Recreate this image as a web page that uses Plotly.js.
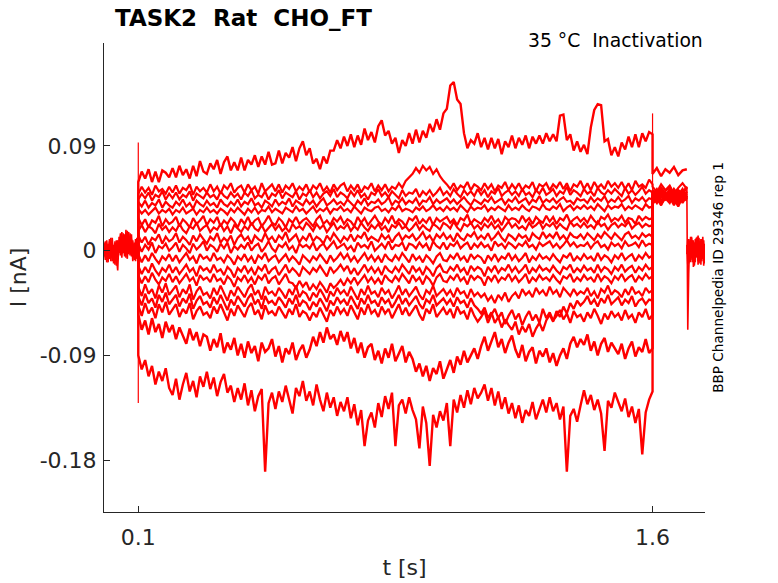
<!DOCTYPE html>
<html>
<head>
<meta charset="utf-8">
<script src="https://cdn.plot.ly/plotly-3.0.1.min.js"></script>
<style>html,body{margin:0;padding:0;background:#fff;}#chart{width:778px;height:583px;}</style>
</head>
<body>
<div id="chart"></div>
<script>
// ---- Data (currents in pA, converted to nA when plotted) ----
// Pre-stimulus baseline traces, t = 0 .. 0.1 s
const pre1 = [2,-8,9,-6,10,-9,7,-11,8,-5,-17,12,-4,16,-2,14,-6,17,-3,15,-5,9,-8,10,-7,0];
const pre2 = [-5,8,-10,6,-7,11,-9,5,-12,9,-6,4,15,-3,13,-5,18,-1,12,-4,14,-6,7,-9,8,0];
const pre3 = [7,-4,5,-10,8,-6,11,-8,6,-13,9,-2,10,-6,15,-3,11,-7,16,-2,10,-9,6,-5,11,0];

// Capacitive transients at step onset (t=0.1) and offset (t=1.6)
const transientOn = [93, -131];
const transientOff = [118, 40];

// Conditioning-step traces, t = 0.1 .. 1.6 s (10 ms samples)
const trTop = [59,68,62,70,59,68,59,69,67,63, 71,63,73,65,70,62,73,64,77,68, 66,75,70,78,66,76,81,69,76,69, 80,69,78,74,82,72,81,74,85,74,
  75,86,75,84,80,89,77,88,94,82, 88,75,79,70,81,75,86,86,95,88, 98,90,100,89,99,91,105,95,102,93, 107,112,99,103,92,97,84,95,90,101,
  92,104,93,103,97,109,102,113,104,118, 122,142,145,130,126,101,88,95,92,101, 89,97,87,97,88,96,83,94,89,99, 88,97,91,99,88,98,92,99,92,101,
  94,100,94,116,117,95,100,86,94,85, 91,83,106,121,126,125,94,96,82,89, 81,93,87,98,89,100,89,101,94,102, 100];
const trB1 = [49,55,50,54,48,56,51,53,49,55, 50,56,49,54,52,57,48,55,51,54, 50,57,51,55,49,56,53,58,50,54, 56,50,57,52,55,49,58,51,54,57,
  51,57,50,56,53,58,51,55,52,57, 50,56,53,58,51,55,50,57,52,56, 58,51,56,52,57,50,55,53,58,51, 56,52,57,51,55,53,58,54,60,63,
  66,71,67,73,69,72,66,70,64,60, 57,53,58,52,56,54,59,52,57,55, 52,58,53,57,51,56,54,59,52,57, 53,58,52,56,54,59,51,57,55,58,
  52,57,54,59,53,58,51,57,55,60, 53,58,52,59,54,57,53,60,55,58, 54,59,53,58,52,60,55,57,54,61, 57];
const trB2 = [44,49,45,50,43,48,46,51,44,49, 45,50,44,48,46,51,43,49,47,45, 50,46,48,44,51,47,45,50,46,49, 44,50,47,52,45,48,46,51,44,49,
  47,52,45,50,48,46,51,44,49,47, 52,46,50,45,49,51,47,53,46,50, 48,45,51,47,52,46,49,44,50,48, 53,47,50,46,51,48,45,52,47,50,
  49,53,46,51,48,52,47,50,54,48, 51,47,53,49,46,52,48,51,47,53, 48,52,46,51,49,54,47,50,52,48, 51,47,53,48,50,46,52,49,54,48,
  50,53,47,51,49,55,48,52,50,47, 53,49,51,47,54,50,48,52,49,53, 50,47,54,49,52,48,51,55,49,52, 50];
const trB3 = [42,38,43,37,41,39,44,37,42,39, 37,42,39,44,38,41,36,43,40,38, 43,39,41,37,44,40,38,42,39,44, 38,42,40,45,39,41,37,43,41,38,
  44,39,42,40,45,38,43,41,39,44, 40,43,38,42,45,39,41,44,40,42, 39,44,41,38,43,40,45,39,42,41, 44,40,42,46,39,43,41,45,40,43,
  41,45,39,43,42,46,40,44,41,43, 45,41,44,40,43,46,42,39,44,42, 40,44,42,46,41,43,45,40,44,42, 46,41,43,45,40,44,42,47,41,44,
  42,45,41,44,46,42,43,40,45,43, 44,41,46,42,45,43,47,41,44,42, 46,42,44,47,41,45,43,46,42,45, 44];
const trB4 = [36,32,35,31,34,37,32,35,33,36, 31,35,33,37,32,34,36,31,35,33, 37,33,35,32,36,34,31,36,33,37, 34,31,36,33,37,32,35,34,38,33,
  36,34,32,37,35,33,38,34,36,32, 35,38,33,36,34,37,32,36,35,38, 34,36,33,38,35,32,37,35,34,37, 38,34,36,33,37,35,39,34,36,35,
  33,37,35,38,34,36,39,35,37,34, 38,35,37,34,39,36,33,38,35,37, 36,39,34,37,35,38,36,34,39,35, 37,35,39,36,34,38,37,35,40,36,
  35,38,36,40,34,37,39,35,38,36, 39,36,38,35,40,37,34,39,36,38, 37,40,35,38,36,39,37,35,40,37, 38];
const trB5 = [28,22,27,20,26,24,30,21,27,23, 25,29,21,27,24,20,28,23,26,30, 22,27,24,29,21,26,23,28,25,20, 27,23,29,22,26,28,21,25,30,24,
  22,28,25,20,27,24,29,23,26,28, 24,21,27,30,23,26,22,28,25,29, 23,27,25,21,29,24,28,22,26,30, 25,22,28,24,30,23,27,25,21,28,
  26,30,23,27,24,29,22,28,25,27, 29,24,27,22,28,26,31,23,27,25, 23,28,25,30,24,27,22,29,26,28, 27,24,30,25,28,23,29,26,24,30,
  25,29,23,28,26,31,24,27,29,25, 28,24,30,26,23,29,27,31,25,28, 26,30,24,28,27,23,30,26,29,27, 28];
const trB6 = [17,22,16,21,19,15,23,18,21,16, 20,17,23,18,15,21,19,24,17,20, 22,16,20,18,23,17,21,15,22,19, 16,21,18,24,19,17,22,16,20,23,
  18,22,17,20,16,23,19,21,18,24, 21,17,23,19,22,16,20,24,18,21, 19,23,17,21,18,24,20,17,22,19, 23,18,21,16,22,20,24,19,21,17,
  20,24,18,22,19,17,23,21,18,24, 22,19,25,20,17,23,21,24,19,22, 18,23,20,24,19,22,17,21,25,20, 23,19,21,18,24,20,22,25,19,23,
  21,24,19,23,20,18,25,21,23,20, 24,20,22,19,25,21,23,18,22,24, 20,23,21,25,19,22,24,20,23,21, 22];
const trB7 = [13,7,12,5,11,9,14,6,12,8, 10,15,7,12,9,5,13,8,14,10, 6,12,9,15,7,11,8,13,5,11, 14,9,12,6,13,10,8,15,9,12,
  7,13,10,16,8,11,14,7,12,9, 15,8,12,10,6,13,9,15,11,7, 12,9,14,8,13,11,16,9,12,10, 8,14,10,13,7,12,15,9,13,11,
  14,9,12,16,10,13,8,14,11,15, 10,13,8,15,11,9,14,12,16,10, 13,10,15,9,12,16,11,8,14,12, 9,14,11,13,8,15,12,10,16,11,
  14,11,16,10,13,9,15,12,11,14, 10,15,12,9,14,11,16,13,10,15, 12,9,14,16,11,13,10,15,12,14, 12];
const trB8 = [6,-1,5,1,7,-2,4,2,6,0, 3,7,-1,5,2,-2,6,1,4,8, 0,5,3,-1,6,2,7,-2,4,1, 5,2,7,0,4,6,-1,3,8,2,
  -1,5,3,7,1,4,-2,6,3,5, 2,7,0,4,6,1,5,8,2,4, 6,1,4,-1,7,3,5,2,8,0, 3,6,2,8,1,5,4,7,0,6,
  5,2,7,3,6,0,8,4,2,7, 1,6,4,8,2,5,7,1,6,3, 7,3,5,0,8,4,6,2,7,5, 2,6,4,8,3,5,1,7,4,6,
  8,3,6,2,5,9,4,7,3,5, 4,7,2,6,8,3,5,1,7,4, 6,2,8,4,5,7,3,9,4,6, 5];
const trB9 = [-3,-10,-4,-9,-2,-7,-11,-5,-8,-3, -9,-4,-10,-6,-2,-8,-5,-11,-3,-7, -5,-9,-2,-8,-6,-10,-4,-7,-12,-5, -8,-3,-9,-5,-11,-4,-7,-2,-9,-6,
  -4,-10,-6,-3,-9,-5,-8,-12,-4,-7, -10,-5,-8,-3,-7,-11,-4,-9,-6,-2, -7,-3,-9,-5,-10,-6,-2,-8,-4,-9, -5,-10,-3,-7,-9,-4,-8,-2,-6,-10,
  -3,-8,-5,-10,-4,-7,-11,-5,-2,-8, -9,-4,-7,-2,-8,-5,-10,-3,-7,-4, -6,-11,-4,-8,-3,-9,-5,-7,-2,-8, -4,-9,-6,-2,-10,-5,-8,-3,-7,-5,
  -8,-3,-7,-10,-4,-6,-2,-9,-5,-8, -3,-7,-5,-9,-2,-8,-4,-6,-10,-4, -7,-2,-8,-5,-3,-9,-4,-7,-2,-6, -4];
const trB10 = [-13,-20,-14,-19,-11,-17,-21,-15,-18,-12, -19,-14,-20,-16,-12,-18,-15,-22,-13,-17, -15,-19,-12,-18,-16,-21,-14,-17,-23,-15, -18,-13,-19,-15,-21,-14,-17,-12,-20,-16,
  -14,-21,-16,-12,-19,-15,-18,-22,-14,-17, -20,-15,-18,-13,-17,-22,-14,-19,-16,-12, -17,-13,-20,-15,-21,-16,-12,-18,-14,-19, -15,-21,-13,-17,-19,-14,-18,-12,-16,-20,
  -13,-18,-15,-21,-14,-17,-22,-15,-12,-18, -19,-14,-17,-12,-18,-15,-21,-13,-17,-14, -16,-22,-14,-18,-13,-19,-15,-17,-12,-18, -14,-19,-16,-12,-20,-15,-18,-13,-17,-15,
  -18,-13,-17,-20,-14,-16,-12,-19,-15,-18, -13,-17,-15,-19,-12,-18,-14,-16,-20,-14, -17,-12,-18,-15,-13,-19,-14,-17,-12,-16, -14];
const trB11 = [-21,-28,-22,-27,-19,-25,-29,-23,-26,-20, -27,-22,-28,-24,-20,-26,-23,-30,-21,-25, -23,-27,-20,-26,-24,-29,-22,-25,-31,-23, -26,-21,-27,-23,-29,-22,-25,-20,-28,-24,
  -22,-29,-24,-20,-27,-28,-32,-26,-31,-27, -34,-29,-33,-27,-31,-36,-28,-32,-29,-25, -30,-24,-28,-23,-29,-25,-21,-27,-23,-28, -24,-29,-21,-25,-27,-22,-26,-20,-24,-28,
  -21,-26,-23,-29,-22,-25,-30,-23,-20,-26, -27,-22,-25,-20,-26,-23,-29,-21,-25,-22, -24,-30,-22,-26,-21,-27,-23,-25,-20,-26, -22,-27,-24,-20,-28,-23,-26,-21,-25,-23,
  -26,-21,-25,-28,-22,-24,-20,-27,-23,-26, -21,-25,-23,-27,-20,-26,-22,-24,-28,-22, -25,-20,-26,-23,-21,-27,-22,-25,-20,-24, -22];
const trB12 = [-31,-39,-29,-37,-33,-41,-30,-36,-28,-38, -34,-30,-40,-33,-37,-29,-42,-35,-31,-38, -36,-41,-32,-38,-30,-37,-43,-34,-39,-31, -35,-40,-33,-29,-38,-34,-42,-31,-37,-35,
  -39,-32,-36,-41,-33,-38,-30,-40,-35,-37, -43,-36,-40,-33,-38,-44,-35,-39,-32,-37, -34,-39,-31,-36,-42,-33,-38,-30,-37,-35, -40,-32,-37,-34,-41,-36,-30,-38,-33,-39,
  -35,-31,-38,-42,-34,-37,-30,-39,-36,-33, -38,-34,-40,-32,-37,-35,-41,-33,-39,-36, -40,-37,-43,-39,-45,-38,-42,-36,-44,-39, -36,-41,-33,-38,-35,-40,-32,-37,-34,-39,
  -31,-37,-34,-40,-32,-36,-39,-33,-38,-35, -37,-32,-39,-35,-41,-33,-36,-30,-38,-34, -36,-40,-33,-38,-31,-37,-35,-39,-32,-36, -34];
const trB13 = [-39,-47,-37,-45,-41,-49,-38,-44,-36,-46, -42,-38,-48,-41,-45,-37,-50,-43,-39,-46, -44,-49,-40,-46,-38,-45,-51,-42,-47,-39, -43,-48,-41,-37,-46,-42,-50,-39,-45,-43,
  -47,-40,-44,-49,-41,-46,-38,-48,-43,-45, -51,-44,-48,-41,-46,-52,-43,-47,-40,-45, -42,-47,-39,-44,-50,-41,-46,-38,-45,-43, -48,-40,-45,-42,-49,-44,-38,-46,-41,-47,
  -43,-39,-46,-50,-42,-45,-38,-47,-44,-41, -46,-42,-48,-40,-45,-43,-49,-41,-47,-50, -54,-49,-58,-53,-62,-57,-66,-59,-64,-68, -61,-72,-65,-70,-63,-74,-67,-62,-69,-60,
  -55,-61,-52,-57,-48,-54,-45,-50,-43,-47, -44,-39,-46,-42,-48,-41,-45,-38,-46,-43, -40,-47,-42,-45,-39,-48,-43,-41,-46,-42, -43];
const trB14 = [-47,-56,-45,-54,-49,-58,-46,-53,-44,-55, -51,-46,-57,-50,-54,-45,-59,-52,-48,-55, -53,-58,-48,-54,-46,-53,-60,-50,-56,-47, -52,-57,-49,-45,-55,-51,-59,-47,-54,-52,
  -56,-48,-53,-58,-50,-55,-46,-57,-52,-54, -60,-53,-57,-49,-55,-61,-51,-56,-48,-54, -50,-56,-47,-53,-59,-49,-55,-46,-54,-51, -57,-48,-54,-50,-58,-52,-46,-55,-49,-56,
  -51,-47,-55,-60,-50,-54,-46,-57,-53,-49, -55,-50,-58,-48,-54,-52,-59,-49,-56,-61, -57,-52,-62,-55,-50,-58,-53,-63,-56,-51, -59,-54,-64,-57,-52,-60,-55,-62,-50,-58,
  -53,-60,-56,-51,-59,-54,-62,-52,-57,-55, -61,-53,-58,-50,-56,-63,-54,-59,-52,-57, -54,-60,-51,-58,-55,-62,-53,-57,-50,-59, -55];
const trA = [-55,-68,-60,-72,-58,-70,-63,-75,-61,-70, -64,-76,-66,-73,-80,-67,-77,-70,-82,-72, -74,-86,-76,-83,-71,-88,-79,-85,-75,-90, -80,-92,-78,-88,-82,-95,-79,-87,-84,-76,
  -91,-82,-96,-84,-89,-79,-94,-86,-81,-92, -85,-74,-82,-70,-79,-66,-76,-72,-81,-69, -78,-70,-84,-75,-88,-79,-92,-83,-80,-94, -86,-97,-84,-92,-80,-95,-88,-82,-96,-87,
  -93,-104,-97,-108,-99,-112,-101,-106,-95,-110, -102,-94,-105,-91,-98,-86,-96,-90,-84,-93, -82,-74,-86,-78,-70,-83,-76,-88,-79,-73, -85,-92,-81,-95,-87,-83,-97,-86,-91,-84,
  -96,-88,-99,-90,-84,-93,-80,-74,-83,-76, -81,-72,-86,-78,-90,-80,-75,-87,-79,-84, -89,-80,-93,-84,-78,-91,-83,-87,-76,-88, -84];
const trBottom = [-90,-102,-94,-108,-99,-115,-104,-112,-101,-118, -124,-110,-128,-115,-105,-121,-112,-126,-108,-117, -104,-119,-109,-125,-113,-106,-122,-116,-130,-118, -128,-114,-133,-120,-138,-125,-119,-190,-131,-122,
  -136,-121,-130,-116,-127,-140,-118,-125,-112,-129, -121,-133,-115,-128,-138,-122,-135,-126,-142,-130, -138,-126,-144,-132,-150,-137,-168,-146,-139,-152, -131,-143,-125,-136,-122,-168,-133,-128,-140,-126,
  -137,-145,-170,-134,-148,-185,-141,-152,-138,-146, -131,-168,-128,-139,-124,-135,-120,-132,-118,-127, -122,-115,-129,-118,-133,-121,-136,-126,-140,-131, -144,-133,-148,-137,-142,-130,-145,-136,-128,-139,
  -126,-138,-131,-145,-134,-190,-142,-136,-147,-133, -120,-132,-124,-137,-128,-140,-172,-129,-135,-122, -131,-138,-127,-143,-134,-148,-136,-175,-139,-128, -121];

// Test-step tails, t = 1.6 .. 1.7 s (same order as the traces above)
const tails = [
  [66,71,64,70,67,72,65,69,70],
  [55,50,57,52,56,49,54,58,53],
  [48,53,46,51,55,47,52,49,54],
  [44,49,42,47,51,45,40,48,46],
  [42,47,40,45,43,48,41,46,44],
  [50,45,52,47,43,51,46,49,44],
  [46,41,49,44,48,42,50,45,47],
  [40,45,39,47,42,44,38,46,43],
  [52,47,54,49,45,53,48,51,46],
  [45,50,43,48,52,44,49,41,47],
  [47,42,50,45,41,49,44,52,46],
  [43,48,41,50,46,39,47,44,49],
  [49,44,52,46,50,43,48,53,45],
  [41,46,40,48,44,50,42,47,45],
  [51,46,53,48,44,52,47,50,55],
  [45,50,42,49,46,41,48,44,51],
  [47,42,50,45,53,46,40,49,44]
];

// Post-step baseline traces, t = 1.7 .. 1.752 s
const post1 = [55,-68,-20,8,-10,11,-6,9,-12,7,-4,12,-9,5,-11,10,-7,8,-13,6];
const post2 = [5,-12,10,-8,12,-5,9,-14,7,-10,11,-6,13,-9,4,-12,10,-7,9,-11];
const post3 = [-3,9,-11,6,-8,12,-10,4,-13,10,-5,8,-12,11,-7,5,-9,12,-6,3];

// Axis ticks
const xTickVals = [0.1, 1.6];
const xTickText = ['0.1', '1.6'];
const yTickVals = [-0.18, -0.09, 0, 0.09];
const yTickText = ['-0.18', '-0.09', '0', '0.09'];

// ---- Build traces ----
function lin(a, b, n) { const o = []; for (let i = 0; i < n; i++) o.push(a + (b - a) * i / (n - 1)); return o; }
const toNA = v => v / 1000;
const RED = '#ff0000';
const traces = [];
function addTrace(x, y, w) {
  traces.push({ x: x, y: y, type: 'scatter', mode: 'lines', line: { color: RED, width: w }, hoverinfo: 'skip', showlegend: false });
}
[pre1, pre2, pre3].forEach(p => addTrace(lin(0, 0.1, p.length), p.map(toNA), 1.6));
const stims = [trTop, trB1, trB2, trB3, trB4, trB5, trB6, trB7, trB8, trB9, trB10, trB11, trB12, trB13, trB14, trA, trBottom];
const widths = [2.4, 2.2, 2.2, 2.2, 2.2, 2.2, 2.2, 2.2, 2.2, 2.2, 2.2, 2.2, 2.2, 2.3, 2.3, 2.5, 2.4];
stims.forEach((s, k) => {
  const tl = tails[k];
  const x = [0.1].concat(lin(0.1, 1.6, s.length), lin(1.6, 1.7, tl.length));
  const y = [0].concat(s.map(toNA), tl.map(toNA));
  addTrace(x, y, widths[k]);
});
addTrace([0.1, 0.1], transientOn.map(toNA), 1.2);
addTrace([1.6, 1.6], transientOff.map(toNA), 1.2);
[post1, post2, post3].forEach(p => addTrace(lin(1.7, 1.752, p.length), p.map(toNA), 1.6));

const FONT = 'DejaVu Sans, sans-serif';
const AX = '#262626';
const layout = {
  width: 778, height: 583,
  margin: { l: 104, r: 73, t: 43, b: 71, pad: 0 },
  paper_bgcolor: '#ffffff', plot_bgcolor: '#ffffff',
  showlegend: false,
  title: {
    text: 'TASK2\u00a0\u00a0Rat\u00a0\u00a0CHO_FT',
    font: { family: FONT, size: 23, color: '#000000', weight: 'bold' },
    xref: 'container', yref: 'container',
    x: 115 / 778, xanchor: 'left',
    y: 1 - 18 / 583, yanchor: 'middle'
  },
  xaxis: {
    range: [0, 1.753], showgrid: false, zeroline: false,
    showline: true, linecolor: AX, linewidth: 1, mirror: false,
    ticks: 'inside', ticklen: 6, tickwidth: 1, tickcolor: AX,
    tickmode: 'array', tickvals: xTickVals, ticktext: xTickText,
    tickfont: { family: FONT, size: 22, color: AX },
    ticklabelstandoff: 6,
    title: { text: 't [s]', font: { family: FONT, size: 22, color: AX }, standoff: 10 }
  },
  yaxis: {
    range: [-0.2246, 0.1785], showgrid: false, zeroline: false,
    showline: true, linecolor: AX, linewidth: 1, mirror: false,
    ticks: 'inside', ticklen: 6, tickwidth: 1, tickcolor: AX,
    tickmode: 'array', tickvals: yTickVals, ticktext: yTickText,
    tickfont: { family: FONT, size: 22, color: AX },
    ticklabelstandoff: 2,
    title: { text: 'I [nA]', font: { family: FONT, size: 22, color: AX }, standoff: 6 }
  },
  annotations: [
    { text: '35 °C\u00a0\u00a0Inactivation', xref: 'paper', yref: 'paper', x: 1.0, y: 1.006,
      xanchor: 'right', yanchor: 'middle', showarrow: false,
      font: { family: FONT, size: 18.8, color: '#000000' } },
    { text: 'BBP Channelpedia ID 29346 rep 1', xref: 'paper', yref: 'paper', x: 1.0205, y: 0.5,
      xanchor: 'center', yanchor: 'middle', textangle: -90, showarrow: false,
      font: { family: FONT, size: 13.6, color: '#000000' } }
  ]
};
Plotly.newPlot('chart', traces, layout, { displayModeBar: false, staticPlot: true });
</script>
</body>
</html>
